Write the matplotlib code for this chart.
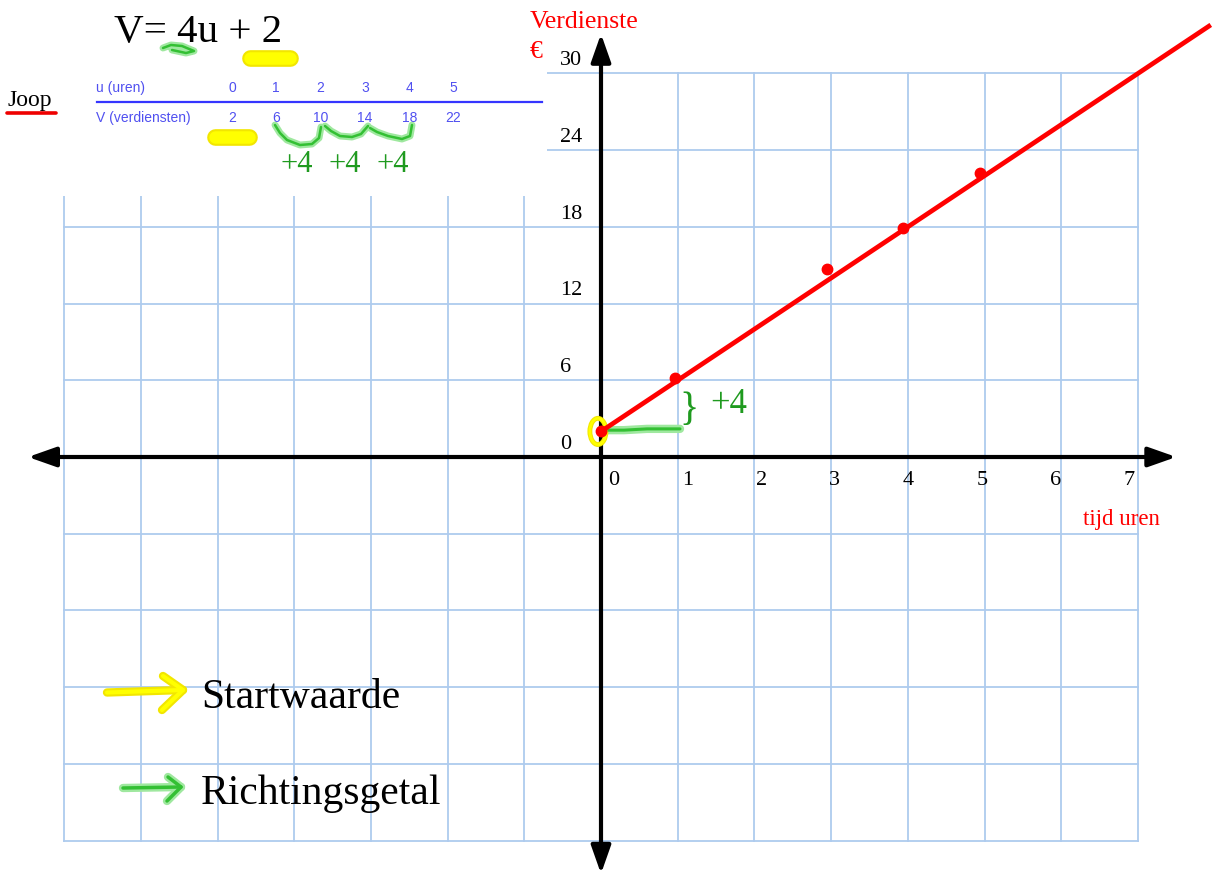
import numpy as np
import matplotlib.pyplot as plt
from matplotlib.patches import Ellipse, Rectangle

# data
u_table = [0, 1, 2, 3, 4, 5]
v_table = [2, 6, 10, 14, 18, 22]

point_u = [0, 0.97, 2.95, 3.94, 4.94]
point_v = [2, 6.2, 14.7, 17.9, 22.2]

line_u = [0, 7.95]
line_v = [2, 33.8]

x_ticks = [0, 1, 2, 3, 4, 5, 6, 7]
y_ticks = [0, 6, 12, 18, 24, 30]

# page layout (pixels)
W, H = 1214, 874
ORIGIN = (601, 457)
CELL = 76.7          # one grid cell in px
YSTEP = 6            # euros per grid cell

serif = ['Liberation Serif', 'DejaVu Serif']
sans = ['Liberation Sans', 'DejaVu Sans']

grid_col = '#aecbee'
yel = '#ffff00'
yel_edge = '#f2e600'
grn = '#33c033'
grn_glow = '#9fe89f'
txt_grn = '#1f9a1f'


def glow(ax, xs, ys, c_in, c_out, lw_in, lw_out, z=5):
    ax.plot(xs, ys, color=c_out, lw=lw_out, solid_capstyle='round', solid_joinstyle='round', zorder=z)
    ax.plot(xs, ys, color=c_in, lw=lw_in, solid_capstyle='round', solid_joinstyle='round', zorder=z + 0.1)


fig = plt.figure(figsize=(W / 100, H / 100), dpi=100)
ax = fig.add_axes([0, 0, 1, 1])
ax.set_xlim(-ORIGIN[0] / CELL, (W - ORIGIN[0]) / CELL)
ax.set_ylim(-(H - ORIGIN[1]) / CELL * YSTEP, ORIGIN[1] / CELL * YSTEP)
ax.axis('off')

# grid
for gx in range(-7, 8):
    ax.plot([gx, gx], [-30, 30], color=grid_col, lw=1.3, zorder=1)
for gy in range(-30, 31, 6):
    ax.plot([-7, 7], [gy, gy], color=grid_col, lw=1.3, zorder=1)

# axes with arrows on both ends
arrow = dict(arrowstyle='<|-|>,head_length=0.85,head_width=0.3', lw=3, color='black',
             shrinkA=0, shrinkB=0, mutation_scale=20)
ax.annotate('', xy=(7.5, 0), xytext=(-7.47, 0), arrowprops=arrow, zorder=4)
ax.annotate('', xy=(0, 33.1), xytext=(0, -32.6), arrowprops=arrow, zorder=4)

# tick labels
for i, t in enumerate(x_ticks):
    ax.text(0.17 + 0.959 * i, -2.2, str(t), ha='center', va='baseline',
            fontsize=16, family=serif, zorder=6)
for t in y_ticks:
    ax.text(-0.535, t + 0.65, str(t), ha='left', va='baseline',
            fontsize=16, family=serif, zorder=6)

# highlight of start value and slope step
glow(ax, [0, 0.3, 0.6, 1.03], [2.1, 2.1, 2.2, 2.2], grn, grn_glow, 2.2, 6, z=5)
ax.add_patch(Ellipse((-0.04, 2.0), 0.21, 2.05, fill=False, ec=yel_edge, lw=3.5, zorder=5))
ax.add_patch(Ellipse((-0.04, 2.0), 0.21, 2.05, fill=False, ec=yel, lw=2, zorder=5.1))

# red line and points
ax.plot(line_u, line_v, color='#ff0000', lw=3.4, zorder=7, solid_capstyle='butt')
ax.plot(point_u, point_v, 'o', color='#ff0000', ms=7.5, zorder=8)

ax.text(1.15, 3.6, '}', color=txt_grn, fontsize=29, family=serif, ha='center', va='center', zorder=6)
ax.text(1.42, 4.1, '+4', color=txt_grn, fontsize=25, family=serif, ha='left', va='center', zorder=6)

ax.text((1083 - ORIGIN[0]) / CELL, (ORIGIN[1] - 525) / CELL * YSTEP, 'tijd uren', color='#ff0000',
        fontsize=16.5, family=serif, ha='left', va='baseline', zorder=6)

# overlay in pixel coordinates: table, formula, axis title and legend
ov = fig.add_axes([0, 0, 1, 1])
ov.set_xlim(0, W)
ov.set_ylim(H, 0)
ov.axis('off')
ov.patch.set_alpha(0)

ov.add_patch(Rectangle((0, 0), 546.7, 196, fc='white', ec='none', zorder=1))

ov.text(530, 28, 'Verdienste', color='#ff0000', fontsize=18.5, family=serif,
        ha='left', va='baseline', zorder=6)
ov.text(530, 58, '€', color='#ff0000', fontsize=18.5, family=serif,
        ha='left', va='baseline', zorder=6)

ov.text(114, 42, 'V= 4u + 2', fontsize=29.5, family=serif, ha='left', va='baseline', zorder=4)
ov.text(8, 106, 'Joop', fontsize=17, family=serif, ha='left', va='baseline', zorder=4)
ov.plot([7, 56], [112.5, 112.5], color='#ee0000', lw=2.6, solid_capstyle='round', zorder=4)

tab_col = '#5050f0'
ov.text(96, 88, 'u (uren)', fontsize=10, family=sans, color=tab_col, ha='left', va='center', zorder=4)
ov.text(96, 118, 'V (verdiensten)', fontsize=10, family=sans, color=tab_col, ha='left', va='center', zorder=4)
for i, (u, v) in enumerate(zip(u_table, v_table)):
    ov.text(232 + 44.3 * i, 88, str(u), fontsize=10, family=sans, color=tab_col, ha='center', va='center', zorder=4)
    ov.text(232 + 44.3 * i, 118, str(v), fontsize=10, family=sans, color=tab_col, ha='center', va='center', zorder=4)
ov.plot([97, 542], [102, 102], color='#3535ff', lw=1.6, zorder=4)

# marker strokes
glow(ov, [250, 290], [58, 58], yel, yel_edge, 9, 12, z=2)
glow(ov, [215, 249], [137, 137], yel, yel_edge, 9, 12, z=2)
glow(ov, [163, 171, 182, 194, 186, 172], [48, 45, 46, 51, 53, 50], grn, grn_glow, 1.8, 5, z=2)
braces = [
    ([275, 280, 287, 300, 312, 319, 321], [125, 133, 140, 145, 144, 138, 127]),
    ([325, 331, 340, 352, 361, 368], [126, 131, 136, 137, 134, 126]),
    ([370, 377, 388, 402, 410, 412], [128, 132, 136, 139, 136, 125]),
]
for bx, by in braces:
    glow(ov, bx, by, grn, grn_glow, 1.8, 5, z=2)
for cx in [297, 345, 393]:
    ov.text(cx, 172, '+4', color=txt_grn, fontsize=22, family=serif, ha='center', va='baseline', zorder=4)

# legend arrows
glow(ov, [107, 183], [692.5, 690], yel, yel_edge, 3, 6, z=3)
glow(ov, [163, 183, 162], [676, 690, 710], yel, yel_edge, 3, 6, z=3)
glow(ov, [123, 181], [788, 787], grn, grn_glow, 2.5, 6, z=3)
glow(ov, [168, 181, 167], [777, 787, 801], grn, grn_glow, 2.5, 6, z=3)
ov.text(201, 708, 'Startwaarde', fontsize=30, family=serif, ha='left', va='baseline', zorder=4)
ov.text(201, 804, 'Richtingsgetal', fontsize=30, family=serif, ha='left', va='baseline', zorder=4)

fig.savefig('out.png', dpi=100)
